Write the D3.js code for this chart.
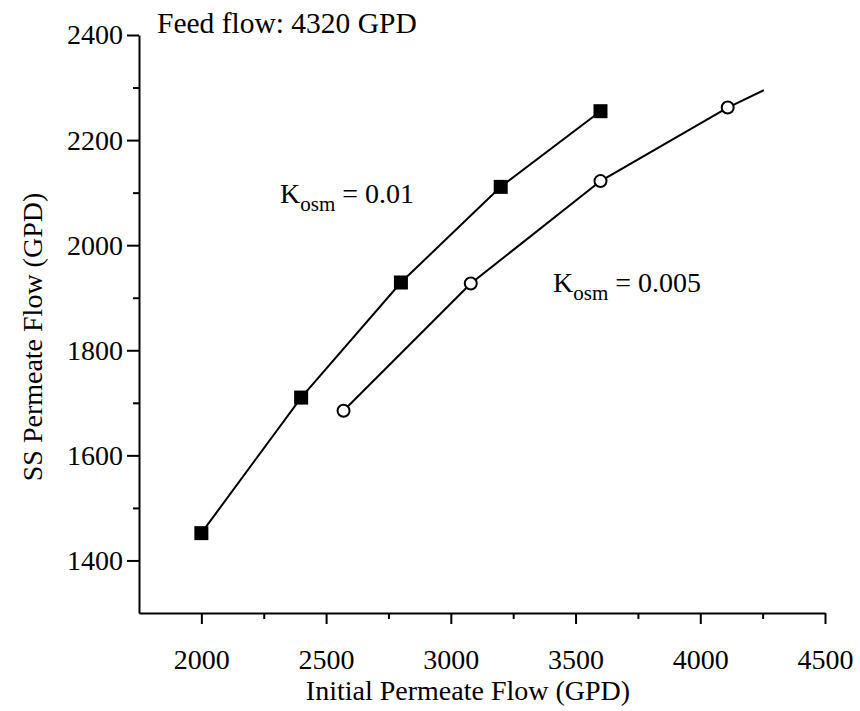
<!DOCTYPE html>
<html>
<head>
<meta charset="utf-8">
<script src="https://cdn.jsdelivr.net/npm/d3@7"></script>
<style>
  html, body { margin: 0; padding: 0; background: #fff; }
  svg text { font-family: "Liberation Serif", "Times New Roman", serif; fill: #000; }
</style>
</head>
<body>
<svg id="chart" width="860" height="711"></svg>
<script>
// Initial permeate flow (GPD) vs steady-state permeate flow (GPD)
const highKx = [2000, 2400, 2800, 3200, 3600];
const highKy = [1452, 1710, 1929, 2111, 2255];

const lowKx = [2570, 3080, 3600, 4110, 4255];
const lowKy = [1685, 1927, 2122, 2262, 2295];
const lowKMarker = [true, true, true, true, false];

const xMajorTicks = [2000, 2500, 3000, 3500, 4000, 4500];
const xMinorTicks = [2250, 2750, 3250, 3750, 4250];
const yMajorTicks = [1400, 1600, 1800, 2000, 2200, 2400];
const yMinorTicks = [1500, 1700, 1900, 2100, 2300];

const SERIF = '"Liberation Serif", "Times New Roman", serif';
const FS = 28;

const svg = d3.select("#chart");

const x = d3.scaleLinear().domain([1750, 4500]).range([139, 825]);
const y = d3.scaleLinear().domain([1300, 2400]).range([613, 35]);

// x axis: major ticks with labels, minor ticks without
const xAxisG = svg.append("g").attr("transform", `translate(0,${y(1300)})`);
xAxisG.call(d3.axisBottom(x).tickValues(xMajorTicks).tickSize(11).tickSizeOuter(0).tickFormat(d3.format("d")));
xAxisG.call(g => g.selectAll(".tick text").attr("dy", null).attr("y", 56));
svg.append("g").attr("transform", `translate(0,${y(1300)})`)
  .call(d3.axisBottom(x).tickValues(xMinorTicks).tickSize(6).tickSizeOuter(0).tickFormat(""))
  .call(g => g.select(".domain").remove());

// y axis
const yAxisG = svg.append("g").attr("transform", `translate(${x(1750)},0)`);
yAxisG.call(d3.axisLeft(y).tickValues(yMajorTicks).tickSize(12).tickSizeOuter(0).tickFormat(d3.format("d")));
yAxisG.call(g => g.selectAll(".tick text").attr("x", -16));
svg.append("g").attr("transform", `translate(${x(1750)},0)`)
  .call(d3.axisLeft(y).tickValues(yMinorTicks).tickSize(6).tickSizeOuter(0).tickFormat(""))
  .call(g => g.select(".domain").remove());

svg.selectAll("g").attr("font-family", SERIF).attr("font-size", FS);
svg.selectAll(".tick text").style("font-family", SERIF).style("font-size", FS + "px");
svg.selectAll(".domain, .tick line").attr("stroke", "#000").attr("stroke-width", 2);

// axis titles
svg.append("text")
  .attr("x", 468).attr("y", 700)
  .attr("text-anchor", "middle")
  .style("font-size", FS + "px")
  .text("Initial Permeate Flow (GPD)");

svg.append("text")
  .attr("transform", "translate(42,337) rotate(-90)")
  .attr("text-anchor", "middle")
  .style("font-size", FS + "px")
  .text("SS Permeate Flow (GPD)");

// annotation
svg.append("text")
  .attr("x", 157).attr("y", 33)
  .style("font-size", "29.5px")
  .text("Feed flow: 4320 GPD");

const line = d3.line().x(d => x(d[0])).y(d => y(d[1]));

const highK = highKx.map((v, i) => [v, highKy[i]]);
const lowK = lowKx.map((v, i) => [v, lowKy[i], lowKMarker[i]]);

svg.append("path").datum(highK).attr("d", line)
  .attr("fill", "none").attr("stroke", "#000").attr("stroke-width", 2);
svg.append("path").datum(lowK).attr("d", line)
  .attr("fill", "none").attr("stroke", "#000").attr("stroke-width", 2);

const SQ = 14;
svg.selectAll("rect.sq").data(highK).enter().append("rect")
  .attr("class", "sq")
  .attr("x", d => x(d[0]) - SQ / 2).attr("y", d => y(d[1]) - SQ / 2)
  .attr("width", SQ).attr("height", SQ)
  .attr("fill", "#000");

svg.selectAll("circle.ci").data(lowK.filter(d => d[2])).enter().append("circle")
  .attr("class", "ci")
  .attr("cx", d => x(d[0])).attr("cy", d => y(d[1]))
  .attr("r", 6)
  .attr("fill", "#fff").attr("stroke", "#000").attr("stroke-width", 2);

// series labels with subscript
function kLabel(px, py, value) {
  const t = svg.append("text").attr("x", px).attr("y", py).style("font-size", FS + "px");
  t.append("tspan").text("K");
  t.append("tspan").attr("dy", 8).style("font-size", "21px").text("osm");
  t.append("tspan").attr("dy", -8).text(" = " + value);
}
kLabel(280, 203, "0.01");
kLabel(553, 292, "0.005");
</script>
</body>
</html>
